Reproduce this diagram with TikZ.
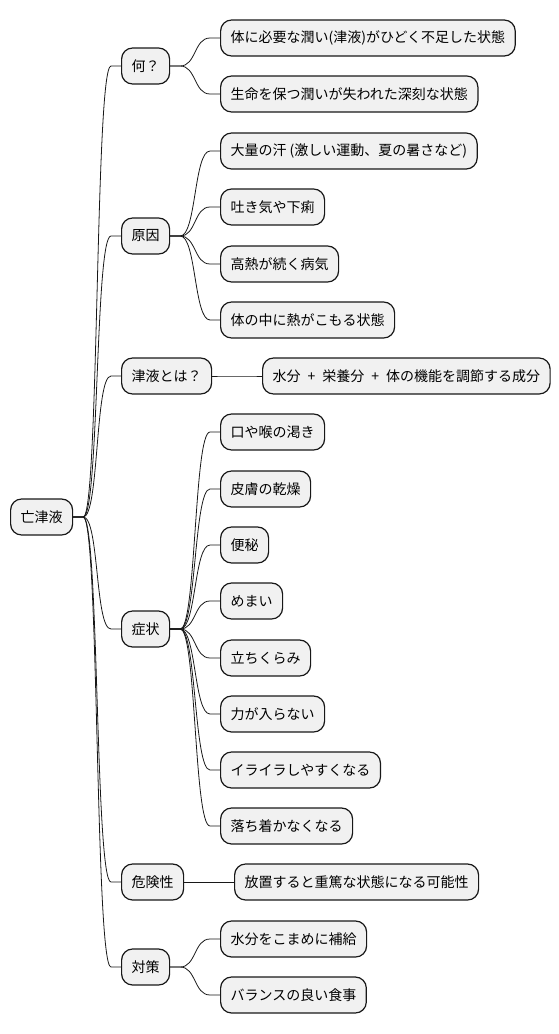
\documentclass[tikz,border=0pt]{standalone}
\usepackage{fontspec}
\setmainfont{Noto Sans CJK JP}
\usepackage{tikz}
\usetikzlibrary{positioning,calc}
\definecolor{boxfill}{HTML}{F1F1F1}
\definecolor{ink}{HTML}{181818}
\newcommand{\mmlink}[2]{\draw[edge] (#1.east) -- ++(10,0) .. controls +(16,0) and +(-16,0) .. ([xshift=-10pt]#2.west) -- (#2.west);}
\newcommand{\gap}{\hspace{7pt}}

\begin{document}
\begin{tikzpicture}[x=1pt,y=-1pt, box/.style={draw=ink,fill=boxfill,line width=1.2pt,rounded corners=11pt,
  font=\fontsize{14}{16}\selectfont,inner xsep=10pt,minimum height=36pt,anchor=west},
  edge/.style={draw=ink,line width=0.8pt}]
  \useasboundingbox (0,0) rectangle (558,1034);
  % root and first level
  \node[box] (root) at (10,517) {亡津液};
  \node[box] (what) at (121,66) {何？};
  \node[box] (cause) at (121,236) {原因};
  \node[box] (jin) at (121,376) {津液とは？};
  \node[box] (sym) at (121,629) {症状};
  \node[box] (risk) at (121,882) {危険性};
  \node[box] (care) at (121,967) {対策};
  % leaves
  \node[box] (w1) at (220,38) {体に必要な潤い(津液)がひどく不足した状態};
  \node[box] (w2) at (220,94) {生命を保つ潤いが失われた深刻な状態};
  \node[box] (c1) at (220,151) {大量の汗 (激しい運動、夏の暑さなど)};
  \node[box] (c2) at (220,207) {吐き気や下痢};
  \node[box] (c3) at (220,264) {高熱が続く病気};
  \node[box] (c4) at (220,320) {体の中に熱がこもる状態};
  \node[box] (j1) at (262,376) {水分{\gap}+{\gap}栄養分{\gap}+{\gap}体の機能を調節する成分};
  \node[box] (s1) at (220,432) {口や喉の渇き};
  \node[box] (s2) at (220,489) {皮膚の乾燥};
  \node[box] (s3) at (220,545) {便秘};
  \node[box] (s4) at (220,601) {めまい};
  \node[box] (s5) at (220,658) {立ちくらみ};
  \node[box] (s6) at (220,714) {力が入らない};
  \node[box] (s7) at (220,770) {イライラしやすくなる};
  \node[box] (s8) at (220,826) {落ち着かなくなる};
  \node[box] (r1) at (234,882) {放置すると重篤な状態になる可能性};
  \node[box] (t1) at (220,939) {水分をこまめに補給};
  \node[box] (t2) at (220,995) {バランスの良い食事};
  % connectors
  \foreach \a/\b in {root/what,root/cause,root/jin,root/sym,root/risk,root/care,
    what/w1,what/w2,cause/c1,cause/c2,cause/c3,cause/c4,jin/j1,
    sym/s1,sym/s2,sym/s3,sym/s4,sym/s5,sym/s6,sym/s7,sym/s8,risk/r1,care/t1,care/t2}
    {\mmlink{\a}{\b}}
\end{tikzpicture}
\end{document}
